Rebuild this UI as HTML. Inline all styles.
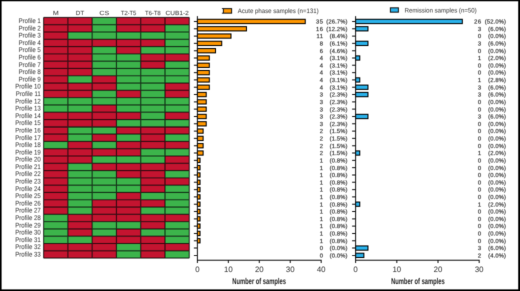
<!DOCTYPE html>
<html><head><meta charset="utf-8"><style>
html,body{margin:0;padding:0;background:#fff;width:520px;height:291px;overflow:hidden}
</style></head><body>
<div style="position:relative;width:520px;height:291px;overflow:hidden">
<div style="position:absolute;left:0;top:0;width:1040px;height:582px;transform:scale(0.5);transform-origin:0 0;will-change:transform">
<svg width="1040" height="582" viewBox="0 0 520 291" style="display:block;text-rendering:geometricPrecision">
<defs><filter id="bl" x="0" y="0" width="1" height="1" color-interpolation-filters="sRGB"><feConvolveMatrix order="5" kernelMatrix="0.00009 0.00198 0.00548 0.00198 0.00009 0.00198 0.04220 0.11707 0.04220 0.00198 0.00548 0.11707 0.32480 0.11707 0.00548 0.00198 0.04220 0.11707 0.04220 0.00198 0.00009 0.00198 0.00548 0.00198 0.00009" divisor="1" edgeMode="duplicate" preserveAlpha="true"/></filter></defs>
<g filter="url(#bl)">
<rect x="0" y="0" width="520" height="291" fill="#fff"/>
<rect x="43.6" y="17.4" width="24.28" height="7.29" fill="#c41430"/>
<rect x="67.88" y="17.4" width="24.28" height="7.29" fill="#c41430"/>
<rect x="92.16" y="17.4" width="24.28" height="7.29" fill="#3cb44b"/>
<rect x="116.44" y="17.4" width="24.28" height="7.29" fill="#c41430"/>
<rect x="140.72" y="17.4" width="24.28" height="7.29" fill="#c41430"/>
<rect x="165" y="17.4" width="24.28" height="7.29" fill="#c41430"/>
<rect x="43.6" y="24.69" width="24.28" height="7.29" fill="#c41430"/>
<rect x="67.88" y="24.69" width="24.28" height="7.29" fill="#c41430"/>
<rect x="92.16" y="24.69" width="24.28" height="7.29" fill="#3cb44b"/>
<rect x="116.44" y="24.69" width="24.28" height="7.29" fill="#c41430"/>
<rect x="140.72" y="24.69" width="24.28" height="7.29" fill="#c41430"/>
<rect x="165" y="24.69" width="24.28" height="7.29" fill="#3cb44b"/>
<rect x="43.6" y="31.99" width="24.28" height="7.29" fill="#c41430"/>
<rect x="67.88" y="31.99" width="24.28" height="7.29" fill="#3cb44b"/>
<rect x="92.16" y="31.99" width="24.28" height="7.29" fill="#3cb44b"/>
<rect x="116.44" y="31.99" width="24.28" height="7.29" fill="#3cb44b"/>
<rect x="140.72" y="31.99" width="24.28" height="7.29" fill="#3cb44b"/>
<rect x="165" y="31.99" width="24.28" height="7.29" fill="#3cb44b"/>
<rect x="43.6" y="39.28" width="24.28" height="7.29" fill="#c41430"/>
<rect x="67.88" y="39.28" width="24.28" height="7.29" fill="#c41430"/>
<rect x="92.16" y="39.28" width="24.28" height="7.29" fill="#c41430"/>
<rect x="116.44" y="39.28" width="24.28" height="7.29" fill="#c41430"/>
<rect x="140.72" y="39.28" width="24.28" height="7.29" fill="#c41430"/>
<rect x="165" y="39.28" width="24.28" height="7.29" fill="#3cb44b"/>
<rect x="43.6" y="46.58" width="24.28" height="7.29" fill="#c41430"/>
<rect x="67.88" y="46.58" width="24.28" height="7.29" fill="#c41430"/>
<rect x="92.16" y="46.58" width="24.28" height="7.29" fill="#3cb44b"/>
<rect x="116.44" y="46.58" width="24.28" height="7.29" fill="#c41430"/>
<rect x="140.72" y="46.58" width="24.28" height="7.29" fill="#3cb44b"/>
<rect x="165" y="46.58" width="24.28" height="7.29" fill="#3cb44b"/>
<rect x="43.6" y="53.87" width="24.28" height="7.29" fill="#c41430"/>
<rect x="67.88" y="53.87" width="24.28" height="7.29" fill="#c41430"/>
<rect x="92.16" y="53.87" width="24.28" height="7.29" fill="#3cb44b"/>
<rect x="116.44" y="53.87" width="24.28" height="7.29" fill="#3cb44b"/>
<rect x="140.72" y="53.87" width="24.28" height="7.29" fill="#c41430"/>
<rect x="165" y="53.87" width="24.28" height="7.29" fill="#c41430"/>
<rect x="43.6" y="61.16" width="24.28" height="7.29" fill="#c41430"/>
<rect x="67.88" y="61.16" width="24.28" height="7.29" fill="#c41430"/>
<rect x="92.16" y="61.16" width="24.28" height="7.29" fill="#3cb44b"/>
<rect x="116.44" y="61.16" width="24.28" height="7.29" fill="#3cb44b"/>
<rect x="140.72" y="61.16" width="24.28" height="7.29" fill="#c41430"/>
<rect x="165" y="61.16" width="24.28" height="7.29" fill="#3cb44b"/>
<rect x="43.6" y="68.46" width="24.28" height="7.29" fill="#c41430"/>
<rect x="67.88" y="68.46" width="24.28" height="7.29" fill="#c41430"/>
<rect x="92.16" y="68.46" width="24.28" height="7.29" fill="#3cb44b"/>
<rect x="116.44" y="68.46" width="24.28" height="7.29" fill="#3cb44b"/>
<rect x="140.72" y="68.46" width="24.28" height="7.29" fill="#3cb44b"/>
<rect x="165" y="68.46" width="24.28" height="7.29" fill="#3cb44b"/>
<rect x="43.6" y="75.75" width="24.28" height="7.29" fill="#c41430"/>
<rect x="67.88" y="75.75" width="24.28" height="7.29" fill="#3cb44b"/>
<rect x="92.16" y="75.75" width="24.28" height="7.29" fill="#c41430"/>
<rect x="116.44" y="75.75" width="24.28" height="7.29" fill="#3cb44b"/>
<rect x="140.72" y="75.75" width="24.28" height="7.29" fill="#3cb44b"/>
<rect x="165" y="75.75" width="24.28" height="7.29" fill="#3cb44b"/>
<rect x="43.6" y="83.05" width="24.28" height="7.29" fill="#c41430"/>
<rect x="67.88" y="83.05" width="24.28" height="7.29" fill="#c41430"/>
<rect x="92.16" y="83.05" width="24.28" height="7.29" fill="#c41430"/>
<rect x="116.44" y="83.05" width="24.28" height="7.29" fill="#3cb44b"/>
<rect x="140.72" y="83.05" width="24.28" height="7.29" fill="#3cb44b"/>
<rect x="165" y="83.05" width="24.28" height="7.29" fill="#c41430"/>
<rect x="43.6" y="90.34" width="24.28" height="7.29" fill="#c41430"/>
<rect x="67.88" y="90.34" width="24.28" height="7.29" fill="#c41430"/>
<rect x="92.16" y="90.34" width="24.28" height="7.29" fill="#3cb44b"/>
<rect x="116.44" y="90.34" width="24.28" height="7.29" fill="#c41430"/>
<rect x="140.72" y="90.34" width="24.28" height="7.29" fill="#3cb44b"/>
<rect x="165" y="90.34" width="24.28" height="7.29" fill="#c41430"/>
<rect x="43.6" y="97.63" width="24.28" height="7.29" fill="#3cb44b"/>
<rect x="67.88" y="97.63" width="24.28" height="7.29" fill="#3cb44b"/>
<rect x="92.16" y="97.63" width="24.28" height="7.29" fill="#3cb44b"/>
<rect x="116.44" y="97.63" width="24.28" height="7.29" fill="#3cb44b"/>
<rect x="140.72" y="97.63" width="24.28" height="7.29" fill="#3cb44b"/>
<rect x="165" y="97.63" width="24.28" height="7.29" fill="#3cb44b"/>
<rect x="43.6" y="104.93" width="24.28" height="7.29" fill="#3cb44b"/>
<rect x="67.88" y="104.93" width="24.28" height="7.29" fill="#3cb44b"/>
<rect x="92.16" y="104.93" width="24.28" height="7.29" fill="#c41430"/>
<rect x="116.44" y="104.93" width="24.28" height="7.29" fill="#3cb44b"/>
<rect x="140.72" y="104.93" width="24.28" height="7.29" fill="#3cb44b"/>
<rect x="165" y="104.93" width="24.28" height="7.29" fill="#3cb44b"/>
<rect x="43.6" y="112.22" width="24.28" height="7.29" fill="#c41430"/>
<rect x="67.88" y="112.22" width="24.28" height="7.29" fill="#c41430"/>
<rect x="92.16" y="112.22" width="24.28" height="7.29" fill="#c41430"/>
<rect x="116.44" y="112.22" width="24.28" height="7.29" fill="#c41430"/>
<rect x="140.72" y="112.22" width="24.28" height="7.29" fill="#3cb44b"/>
<rect x="165" y="112.22" width="24.28" height="7.29" fill="#c41430"/>
<rect x="43.6" y="119.52" width="24.28" height="7.29" fill="#c41430"/>
<rect x="67.88" y="119.52" width="24.28" height="7.29" fill="#c41430"/>
<rect x="92.16" y="119.52" width="24.28" height="7.29" fill="#c41430"/>
<rect x="116.44" y="119.52" width="24.28" height="7.29" fill="#3cb44b"/>
<rect x="140.72" y="119.52" width="24.28" height="7.29" fill="#3cb44b"/>
<rect x="165" y="119.52" width="24.28" height="7.29" fill="#3cb44b"/>
<rect x="43.6" y="126.81" width="24.28" height="7.29" fill="#c41430"/>
<rect x="67.88" y="126.81" width="24.28" height="7.29" fill="#3cb44b"/>
<rect x="92.16" y="126.81" width="24.28" height="7.29" fill="#3cb44b"/>
<rect x="116.44" y="126.81" width="24.28" height="7.29" fill="#c41430"/>
<rect x="140.72" y="126.81" width="24.28" height="7.29" fill="#c41430"/>
<rect x="165" y="126.81" width="24.28" height="7.29" fill="#c41430"/>
<rect x="43.6" y="134.1" width="24.28" height="7.29" fill="#c41430"/>
<rect x="67.88" y="134.1" width="24.28" height="7.29" fill="#3cb44b"/>
<rect x="92.16" y="134.1" width="24.28" height="7.29" fill="#c41430"/>
<rect x="116.44" y="134.1" width="24.28" height="7.29" fill="#3cb44b"/>
<rect x="140.72" y="134.1" width="24.28" height="7.29" fill="#c41430"/>
<rect x="165" y="134.1" width="24.28" height="7.29" fill="#3cb44b"/>
<rect x="43.6" y="141.4" width="24.28" height="7.29" fill="#3cb44b"/>
<rect x="67.88" y="141.4" width="24.28" height="7.29" fill="#c41430"/>
<rect x="92.16" y="141.4" width="24.28" height="7.29" fill="#3cb44b"/>
<rect x="116.44" y="141.4" width="24.28" height="7.29" fill="#c41430"/>
<rect x="140.72" y="141.4" width="24.28" height="7.29" fill="#c41430"/>
<rect x="165" y="141.4" width="24.28" height="7.29" fill="#c41430"/>
<rect x="43.6" y="148.69" width="24.28" height="7.29" fill="#c41430"/>
<rect x="67.88" y="148.69" width="24.28" height="7.29" fill="#c41430"/>
<rect x="92.16" y="148.69" width="24.28" height="7.29" fill="#c41430"/>
<rect x="116.44" y="148.69" width="24.28" height="7.29" fill="#c41430"/>
<rect x="140.72" y="148.69" width="24.28" height="7.29" fill="#3cb44b"/>
<rect x="165" y="148.69" width="24.28" height="7.29" fill="#3cb44b"/>
<rect x="43.6" y="155.99" width="24.28" height="7.29" fill="#c41430"/>
<rect x="67.88" y="155.99" width="24.28" height="7.29" fill="#c41430"/>
<rect x="92.16" y="155.99" width="24.28" height="7.29" fill="#3cb44b"/>
<rect x="116.44" y="155.99" width="24.28" height="7.29" fill="#3cb44b"/>
<rect x="140.72" y="155.99" width="24.28" height="7.29" fill="#3cb44b"/>
<rect x="165" y="155.99" width="24.28" height="7.29" fill="#c41430"/>
<rect x="43.6" y="163.28" width="24.28" height="7.29" fill="#c41430"/>
<rect x="67.88" y="163.28" width="24.28" height="7.29" fill="#3cb44b"/>
<rect x="92.16" y="163.28" width="24.28" height="7.29" fill="#c41430"/>
<rect x="116.44" y="163.28" width="24.28" height="7.29" fill="#c41430"/>
<rect x="140.72" y="163.28" width="24.28" height="7.29" fill="#c41430"/>
<rect x="165" y="163.28" width="24.28" height="7.29" fill="#c41430"/>
<rect x="43.6" y="170.57" width="24.28" height="7.29" fill="#c41430"/>
<rect x="67.88" y="170.57" width="24.28" height="7.29" fill="#3cb44b"/>
<rect x="92.16" y="170.57" width="24.28" height="7.29" fill="#3cb44b"/>
<rect x="116.44" y="170.57" width="24.28" height="7.29" fill="#c41430"/>
<rect x="140.72" y="170.57" width="24.28" height="7.29" fill="#c41430"/>
<rect x="165" y="170.57" width="24.28" height="7.29" fill="#3cb44b"/>
<rect x="43.6" y="177.87" width="24.28" height="7.29" fill="#c41430"/>
<rect x="67.88" y="177.87" width="24.28" height="7.29" fill="#3cb44b"/>
<rect x="92.16" y="177.87" width="24.28" height="7.29" fill="#3cb44b"/>
<rect x="116.44" y="177.87" width="24.28" height="7.29" fill="#3cb44b"/>
<rect x="140.72" y="177.87" width="24.28" height="7.29" fill="#c41430"/>
<rect x="165" y="177.87" width="24.28" height="7.29" fill="#c41430"/>
<rect x="43.6" y="185.16" width="24.28" height="7.29" fill="#c41430"/>
<rect x="67.88" y="185.16" width="24.28" height="7.29" fill="#3cb44b"/>
<rect x="92.16" y="185.16" width="24.28" height="7.29" fill="#3cb44b"/>
<rect x="116.44" y="185.16" width="24.28" height="7.29" fill="#3cb44b"/>
<rect x="140.72" y="185.16" width="24.28" height="7.29" fill="#c41430"/>
<rect x="165" y="185.16" width="24.28" height="7.29" fill="#3cb44b"/>
<rect x="43.6" y="192.46" width="24.28" height="7.29" fill="#c41430"/>
<rect x="67.88" y="192.46" width="24.28" height="7.29" fill="#3cb44b"/>
<rect x="92.16" y="192.46" width="24.28" height="7.29" fill="#3cb44b"/>
<rect x="116.44" y="192.46" width="24.28" height="7.29" fill="#c41430"/>
<rect x="140.72" y="192.46" width="24.28" height="7.29" fill="#3cb44b"/>
<rect x="165" y="192.46" width="24.28" height="7.29" fill="#3cb44b"/>
<rect x="43.6" y="199.75" width="24.28" height="7.29" fill="#c41430"/>
<rect x="67.88" y="199.75" width="24.28" height="7.29" fill="#3cb44b"/>
<rect x="92.16" y="199.75" width="24.28" height="7.29" fill="#c41430"/>
<rect x="116.44" y="199.75" width="24.28" height="7.29" fill="#c41430"/>
<rect x="140.72" y="199.75" width="24.28" height="7.29" fill="#c41430"/>
<rect x="165" y="199.75" width="24.28" height="7.29" fill="#3cb44b"/>
<rect x="43.6" y="207.04" width="24.28" height="7.29" fill="#c41430"/>
<rect x="67.88" y="207.04" width="24.28" height="7.29" fill="#3cb44b"/>
<rect x="92.16" y="207.04" width="24.28" height="7.29" fill="#c41430"/>
<rect x="116.44" y="207.04" width="24.28" height="7.29" fill="#c41430"/>
<rect x="140.72" y="207.04" width="24.28" height="7.29" fill="#3cb44b"/>
<rect x="165" y="207.04" width="24.28" height="7.29" fill="#3cb44b"/>
<rect x="43.6" y="214.34" width="24.28" height="7.29" fill="#3cb44b"/>
<rect x="67.88" y="214.34" width="24.28" height="7.29" fill="#c41430"/>
<rect x="92.16" y="214.34" width="24.28" height="7.29" fill="#c41430"/>
<rect x="116.44" y="214.34" width="24.28" height="7.29" fill="#c41430"/>
<rect x="140.72" y="214.34" width="24.28" height="7.29" fill="#c41430"/>
<rect x="165" y="214.34" width="24.28" height="7.29" fill="#c41430"/>
<rect x="43.6" y="221.63" width="24.28" height="7.29" fill="#3cb44b"/>
<rect x="67.88" y="221.63" width="24.28" height="7.29" fill="#c41430"/>
<rect x="92.16" y="221.63" width="24.28" height="7.29" fill="#3cb44b"/>
<rect x="116.44" y="221.63" width="24.28" height="7.29" fill="#3cb44b"/>
<rect x="140.72" y="221.63" width="24.28" height="7.29" fill="#c41430"/>
<rect x="165" y="221.63" width="24.28" height="7.29" fill="#3cb44b"/>
<rect x="43.6" y="228.93" width="24.28" height="7.29" fill="#3cb44b"/>
<rect x="67.88" y="228.93" width="24.28" height="7.29" fill="#c41430"/>
<rect x="92.16" y="228.93" width="24.28" height="7.29" fill="#3cb44b"/>
<rect x="116.44" y="228.93" width="24.28" height="7.29" fill="#c41430"/>
<rect x="140.72" y="228.93" width="24.28" height="7.29" fill="#3cb44b"/>
<rect x="165" y="228.93" width="24.28" height="7.29" fill="#3cb44b"/>
<rect x="43.6" y="236.22" width="24.28" height="7.29" fill="#3cb44b"/>
<rect x="67.88" y="236.22" width="24.28" height="7.29" fill="#3cb44b"/>
<rect x="92.16" y="236.22" width="24.28" height="7.29" fill="#c41430"/>
<rect x="116.44" y="236.22" width="24.28" height="7.29" fill="#c41430"/>
<rect x="140.72" y="236.22" width="24.28" height="7.29" fill="#c41430"/>
<rect x="165" y="236.22" width="24.28" height="7.29" fill="#3cb44b"/>
<rect x="43.6" y="243.51" width="24.28" height="7.29" fill="#c41430"/>
<rect x="67.88" y="243.51" width="24.28" height="7.29" fill="#c41430"/>
<rect x="92.16" y="243.51" width="24.28" height="7.29" fill="#c41430"/>
<rect x="116.44" y="243.51" width="24.28" height="7.29" fill="#3cb44b"/>
<rect x="140.72" y="243.51" width="24.28" height="7.29" fill="#c41430"/>
<rect x="165" y="243.51" width="24.28" height="7.29" fill="#c41430"/>
<rect x="43.6" y="250.81" width="24.28" height="7.29" fill="#c41430"/>
<rect x="67.88" y="250.81" width="24.28" height="7.29" fill="#c41430"/>
<rect x="92.16" y="250.81" width="24.28" height="7.29" fill="#c41430"/>
<rect x="116.44" y="250.81" width="24.28" height="7.29" fill="#3cb44b"/>
<rect x="140.72" y="250.81" width="24.28" height="7.29" fill="#c41430"/>
<rect x="165" y="250.81" width="24.28" height="7.29" fill="#3cb44b"/>
<path d="M43.6 17.4H189.28M43.6 24.69H189.28M43.6 31.99H189.28M43.6 39.28H189.28M43.6 46.58H189.28M43.6 53.87H189.28M43.6 61.16H189.28M43.6 68.46H189.28M43.6 75.75H189.28M43.6 83.05H189.28M43.6 90.34H189.28M43.6 97.63H189.28M43.6 104.93H189.28M43.6 112.22H189.28M43.6 119.52H189.28M43.6 126.81H189.28M43.6 134.1H189.28M43.6 141.4H189.28M43.6 148.69H189.28M43.6 155.99H189.28M43.6 163.28H189.28M43.6 170.57H189.28M43.6 177.87H189.28M43.6 185.16H189.28M43.6 192.46H189.28M43.6 199.75H189.28M43.6 207.04H189.28M43.6 214.34H189.28M43.6 221.63H189.28M43.6 228.93H189.28M43.6 236.22H189.28M43.6 243.51H189.28M43.6 250.81H189.28M43.6 258.1H189.28M43.6 17.4V258.1M67.88 17.4V258.1M92.16 17.4V258.1M116.44 17.4V258.1M140.72 17.4V258.1M165 17.4V258.1M189.28 17.4V258.1" stroke="#000" stroke-opacity="0.72" stroke-width="1.1" fill="none"/>
<g font-family="Liberation Sans, sans-serif" font-size="6.7" fill="#313131">
<text transform="translate(55.74 15.1) scale(1.17 1)" text-anchor="middle" font-size="6.0">M</text>
<text transform="translate(80.02 15.1) scale(1.06 1)" text-anchor="middle" font-size="6.0">DT</text>
<text transform="translate(104.3 15.1) scale(1.17 1)" text-anchor="middle" font-size="6.0">CS</text>
<text transform="translate(128.58 15.1) scale(0.96 1)" text-anchor="middle" font-size="6.0">T2-T5</text>
<text transform="translate(152.86 15.1) scale(0.98 1)" text-anchor="middle" font-size="6.0">T6-T8</text>
<text transform="translate(177.14 15.1) scale(1.09 1)" text-anchor="middle" font-size="6.0">CUB1-2</text>
<text transform="translate(40.7 23.05) scale(0.9 1)" text-anchor="end" font-size="6.7">Profile 1</text>
<text transform="translate(40.7 30.34) scale(0.9 1)" text-anchor="end" font-size="6.7">Profile 2</text>
<text transform="translate(40.7 37.63) scale(0.9 1)" text-anchor="end" font-size="6.7">Profile 3</text>
<text transform="translate(40.7 44.93) scale(0.9 1)" text-anchor="end" font-size="6.7">Profile 4</text>
<text transform="translate(40.7 52.22) scale(0.9 1)" text-anchor="end" font-size="6.7">Profile 5</text>
<text transform="translate(40.7 59.52) scale(0.9 1)" text-anchor="end" font-size="6.7">Profile 6</text>
<text transform="translate(40.7 66.81) scale(0.9 1)" text-anchor="end" font-size="6.7">Profile 7</text>
<text transform="translate(40.7 74.1) scale(0.9 1)" text-anchor="end" font-size="6.7">Profile 8</text>
<text transform="translate(40.7 81.4) scale(0.9 1)" text-anchor="end" font-size="6.7">Profile 9</text>
<text transform="translate(40.7 88.69) scale(0.9 1)" text-anchor="end" font-size="6.7">Profile 10</text>
<text transform="translate(40.7 95.99) scale(0.9 1)" text-anchor="end" font-size="6.7">Profile 11</text>
<text transform="translate(40.7 103.28) scale(0.9 1)" text-anchor="end" font-size="6.7">Profile 12</text>
<text transform="translate(40.7 110.57) scale(0.9 1)" text-anchor="end" font-size="6.7">Profile 13</text>
<text transform="translate(40.7 117.87) scale(0.9 1)" text-anchor="end" font-size="6.7">Profile 14</text>
<text transform="translate(40.7 125.16) scale(0.9 1)" text-anchor="end" font-size="6.7">Profile 15</text>
<text transform="translate(40.7 132.46) scale(0.9 1)" text-anchor="end" font-size="6.7">Profile 16</text>
<text transform="translate(40.7 139.75) scale(0.9 1)" text-anchor="end" font-size="6.7">Profile 17</text>
<text transform="translate(40.7 147.04) scale(0.9 1)" text-anchor="end" font-size="6.7">Profile 18</text>
<text transform="translate(40.7 154.34) scale(0.9 1)" text-anchor="end" font-size="6.7">Profile 19</text>
<text transform="translate(40.7 161.63) scale(0.9 1)" text-anchor="end" font-size="6.7">Profile 20</text>
<text transform="translate(40.7 168.93) scale(0.9 1)" text-anchor="end" font-size="6.7">Profile 21</text>
<text transform="translate(40.7 176.22) scale(0.9 1)" text-anchor="end" font-size="6.7">Profile 22</text>
<text transform="translate(40.7 183.51) scale(0.9 1)" text-anchor="end" font-size="6.7">Profile 23</text>
<text transform="translate(40.7 190.81) scale(0.9 1)" text-anchor="end" font-size="6.7">Profile 24</text>
<text transform="translate(40.7 198.1) scale(0.9 1)" text-anchor="end" font-size="6.7">Profile 25</text>
<text transform="translate(40.7 205.4) scale(0.9 1)" text-anchor="end" font-size="6.7">Profile 26</text>
<text transform="translate(40.7 212.69) scale(0.9 1)" text-anchor="end" font-size="6.7">Profile 27</text>
<text transform="translate(40.7 219.98) scale(0.9 1)" text-anchor="end" font-size="6.7">Profile 28</text>
<text transform="translate(40.7 227.28) scale(0.9 1)" text-anchor="end" font-size="6.7">Profile 29</text>
<text transform="translate(40.7 234.57) scale(0.9 1)" text-anchor="end" font-size="6.7">Profile 30</text>
<text transform="translate(40.7 241.87) scale(0.9 1)" text-anchor="end" font-size="6.7">Profile 31</text>
<text transform="translate(40.7 249.16) scale(0.9 1)" text-anchor="end" font-size="6.7">Profile 32</text>
<text transform="translate(40.7 256.45) scale(0.9 1)" text-anchor="end" font-size="6.7">Profile 33</text>
</g>
<rect x="197.4" y="19.3" width="107.88" height="4.3" fill="#ff9700" stroke="#000" stroke-width="1"/>
<rect x="197.4" y="26.61" width="49.07" height="4.3" fill="#ff9700" stroke="#000" stroke-width="1"/>
<rect x="197.4" y="33.92" width="33.59" height="4.3" fill="#ff9700" stroke="#000" stroke-width="1"/>
<rect x="197.4" y="41.23" width="24.31" height="4.3" fill="#ff9700" stroke="#000" stroke-width="1"/>
<rect x="197.4" y="48.54" width="18.12" height="4.3" fill="#ff9700" stroke="#000" stroke-width="1"/>
<rect x="197.4" y="55.85" width="11.93" height="4.3" fill="#ff9700" stroke="#000" stroke-width="1"/>
<rect x="197.4" y="63.16" width="11.93" height="4.3" fill="#ff9700" stroke="#000" stroke-width="1"/>
<rect x="197.4" y="70.47" width="11.93" height="4.3" fill="#ff9700" stroke="#000" stroke-width="1"/>
<rect x="197.4" y="77.78" width="11.93" height="4.3" fill="#ff9700" stroke="#000" stroke-width="1"/>
<rect x="197.4" y="85.09" width="11.93" height="4.3" fill="#ff9700" stroke="#000" stroke-width="1"/>
<rect x="197.4" y="92.4" width="8.84" height="4.3" fill="#ff9700" stroke="#000" stroke-width="1"/>
<rect x="197.4" y="99.71" width="8.84" height="4.3" fill="#ff9700" stroke="#000" stroke-width="1"/>
<rect x="197.4" y="107.02" width="8.84" height="4.3" fill="#ff9700" stroke="#000" stroke-width="1"/>
<rect x="197.4" y="114.33" width="8.84" height="4.3" fill="#ff9700" stroke="#000" stroke-width="1"/>
<rect x="197.4" y="121.64" width="8.84" height="4.3" fill="#ff9700" stroke="#000" stroke-width="1"/>
<rect x="197.4" y="128.95" width="5.74" height="4.3" fill="#ff9700" stroke="#000" stroke-width="1"/>
<rect x="197.4" y="136.26" width="5.74" height="4.3" fill="#ff9700" stroke="#000" stroke-width="1"/>
<rect x="197.4" y="143.57" width="5.74" height="4.3" fill="#ff9700" stroke="#000" stroke-width="1"/>
<rect x="197.4" y="150.88" width="5.74" height="4.3" fill="#ff9700" stroke="#000" stroke-width="1"/>
<rect x="197.4" y="158.19" width="2.65" height="4.3" fill="#ff9700" stroke="#000" stroke-width="1"/>
<rect x="197.4" y="165.5" width="2.65" height="4.3" fill="#ff9700" stroke="#000" stroke-width="1"/>
<rect x="197.4" y="172.81" width="2.65" height="4.3" fill="#ff9700" stroke="#000" stroke-width="1"/>
<rect x="197.4" y="180.12" width="2.65" height="4.3" fill="#ff9700" stroke="#000" stroke-width="1"/>
<rect x="197.4" y="187.43" width="2.65" height="4.3" fill="#ff9700" stroke="#000" stroke-width="1"/>
<rect x="197.4" y="194.74" width="2.65" height="4.3" fill="#ff9700" stroke="#000" stroke-width="1"/>
<rect x="197.4" y="202.05" width="2.65" height="4.3" fill="#ff9700" stroke="#000" stroke-width="1"/>
<rect x="197.4" y="209.36" width="2.65" height="4.3" fill="#ff9700" stroke="#000" stroke-width="1"/>
<rect x="197.4" y="216.67" width="2.65" height="4.3" fill="#ff9700" stroke="#000" stroke-width="1"/>
<rect x="197.4" y="223.98" width="2.65" height="4.3" fill="#ff9700" stroke="#000" stroke-width="1"/>
<rect x="197.4" y="231.29" width="2.65" height="4.3" fill="#ff9700" stroke="#000" stroke-width="1"/>
<rect x="197.4" y="238.6" width="2.65" height="4.3" fill="#ff9700" stroke="#000" stroke-width="1"/>
<path d="M197.4 16.1V260.3M193.9 21.45H197.4M193.9 28.76H197.4M193.9 36.07H197.4M193.9 43.38H197.4M193.9 50.69H197.4M193.9 58H197.4M193.9 65.31H197.4M193.9 72.62H197.4M193.9 79.93H197.4M193.9 87.24H197.4M193.9 94.55H197.4M193.9 101.86H197.4M193.9 109.17H197.4M193.9 116.48H197.4M193.9 123.79H197.4M193.9 131.1H197.4M193.9 138.41H197.4M193.9 145.72H197.4M193.9 153.03H197.4M193.9 160.34H197.4M193.9 167.65H197.4M193.9 174.96H197.4M193.9 182.27H197.4M193.9 189.58H197.4M193.9 196.89H197.4M193.9 204.2H197.4M193.9 211.51H197.4M193.9 218.82H197.4M193.9 226.13H197.4M193.9 233.44H197.4M193.9 240.75H197.4M193.9 248.06H197.4M193.9 255.37H197.4M196.9 260.3H321.7M197.4 260.3V263M228.35 260.3V263M259.3 260.3V263M290.25 260.3V263M321.2 260.3V263" stroke="#141414" stroke-width="1" fill="none"/>
<g font-family="Liberation Sans, sans-serif" font-size="7.8" fill="#313131" text-anchor="middle">
<text x="197.4" y="272.1">0</text>
<text x="228.35" y="272.1">10</text>
<text x="259.3" y="272.1">20</text>
<text x="290.25" y="272.1">30</text>
<text x="321.2" y="272.1">40</text>
</g>
<g font-family="Liberation Sans, sans-serif" font-size="8.4" font-weight="bold" fill="#1e1e1e">
<text transform="translate(259.1 283.8) scale(0.69 1)" text-anchor="middle">Number of samples</text>
</g>
<g font-family="Liberation Sans, sans-serif" font-size="5.8" letter-spacing="0.45" fill="#313131" stroke="#313131" stroke-width="0.18">
<text x="323.4" y="23.55" text-anchor="end">35</text>
<text x="347.6" y="23.55" text-anchor="end" letter-spacing="0.15">(26.7%)</text>
<text x="323.4" y="30.86" text-anchor="end">16</text>
<text x="347.6" y="30.86" text-anchor="end" letter-spacing="0.15">(12.2%)</text>
<text x="323.4" y="38.17" text-anchor="end">11</text>
<text x="347.6" y="38.17" text-anchor="end" letter-spacing="0.15">(8.4%)</text>
<text x="323.4" y="45.48" text-anchor="end">8</text>
<text x="347.6" y="45.48" text-anchor="end" letter-spacing="0.15">(6.1%)</text>
<text x="323.4" y="52.79" text-anchor="end">6</text>
<text x="347.6" y="52.79" text-anchor="end" letter-spacing="0.15">(4.6%)</text>
<text x="323.4" y="60.1" text-anchor="end">4</text>
<text x="347.6" y="60.1" text-anchor="end" letter-spacing="0.15">(3.1%)</text>
<text x="323.4" y="67.41" text-anchor="end">4</text>
<text x="347.6" y="67.41" text-anchor="end" letter-spacing="0.15">(3.1%)</text>
<text x="323.4" y="74.72" text-anchor="end">4</text>
<text x="347.6" y="74.72" text-anchor="end" letter-spacing="0.15">(3.1%)</text>
<text x="323.4" y="82.03" text-anchor="end">4</text>
<text x="347.6" y="82.03" text-anchor="end" letter-spacing="0.15">(3.1%)</text>
<text x="323.4" y="89.34" text-anchor="end">4</text>
<text x="347.6" y="89.34" text-anchor="end" letter-spacing="0.15">(3.1%)</text>
<text x="323.4" y="96.65" text-anchor="end">3</text>
<text x="347.6" y="96.65" text-anchor="end" letter-spacing="0.15">(2.3%)</text>
<text x="323.4" y="103.96" text-anchor="end">3</text>
<text x="347.6" y="103.96" text-anchor="end" letter-spacing="0.15">(2.3%)</text>
<text x="323.4" y="111.27" text-anchor="end">3</text>
<text x="347.6" y="111.27" text-anchor="end" letter-spacing="0.15">(2.3%)</text>
<text x="323.4" y="118.58" text-anchor="end">3</text>
<text x="347.6" y="118.58" text-anchor="end" letter-spacing="0.15">(2.3%)</text>
<text x="323.4" y="125.89" text-anchor="end">3</text>
<text x="347.6" y="125.89" text-anchor="end" letter-spacing="0.15">(2.3%)</text>
<text x="323.4" y="133.2" text-anchor="end">2</text>
<text x="347.6" y="133.2" text-anchor="end" letter-spacing="0.15">(1.5%)</text>
<text x="323.4" y="140.51" text-anchor="end">2</text>
<text x="347.6" y="140.51" text-anchor="end" letter-spacing="0.15">(1.5%)</text>
<text x="323.4" y="147.82" text-anchor="end">2</text>
<text x="347.6" y="147.82" text-anchor="end" letter-spacing="0.15">(1.5%)</text>
<text x="323.4" y="155.13" text-anchor="end">2</text>
<text x="347.6" y="155.13" text-anchor="end" letter-spacing="0.15">(1.5%)</text>
<text x="323.4" y="162.44" text-anchor="end">1</text>
<text x="347.6" y="162.44" text-anchor="end" letter-spacing="0.15">(0.8%)</text>
<text x="323.4" y="169.75" text-anchor="end">1</text>
<text x="347.6" y="169.75" text-anchor="end" letter-spacing="0.15">(0.8%)</text>
<text x="323.4" y="177.06" text-anchor="end">1</text>
<text x="347.6" y="177.06" text-anchor="end" letter-spacing="0.15">(0.8%)</text>
<text x="323.4" y="184.37" text-anchor="end">1</text>
<text x="347.6" y="184.37" text-anchor="end" letter-spacing="0.15">(0.8%)</text>
<text x="323.4" y="191.68" text-anchor="end">1</text>
<text x="347.6" y="191.68" text-anchor="end" letter-spacing="0.15">(0.8%)</text>
<text x="323.4" y="198.99" text-anchor="end">1</text>
<text x="347.6" y="198.99" text-anchor="end" letter-spacing="0.15">(0.8%)</text>
<text x="323.4" y="206.3" text-anchor="end">1</text>
<text x="347.6" y="206.3" text-anchor="end" letter-spacing="0.15">(0.8%)</text>
<text x="323.4" y="213.61" text-anchor="end">1</text>
<text x="347.6" y="213.61" text-anchor="end" letter-spacing="0.15">(0.8%)</text>
<text x="323.4" y="220.92" text-anchor="end">1</text>
<text x="347.6" y="220.92" text-anchor="end" letter-spacing="0.15">(0.8%)</text>
<text x="323.4" y="228.23" text-anchor="end">1</text>
<text x="347.6" y="228.23" text-anchor="end" letter-spacing="0.15">(0.8%)</text>
<text x="323.4" y="235.54" text-anchor="end">1</text>
<text x="347.6" y="235.54" text-anchor="end" letter-spacing="0.15">(0.8%)</text>
<text x="323.4" y="242.85" text-anchor="end">1</text>
<text x="347.6" y="242.85" text-anchor="end" letter-spacing="0.15">(0.8%)</text>
<text x="323.4" y="250.16" text-anchor="end">0</text>
<text x="347.6" y="250.16" text-anchor="end" letter-spacing="0.15">(0.0%)</text>
<text x="323.4" y="257.47" text-anchor="end">0</text>
<text x="347.6" y="257.47" text-anchor="end" letter-spacing="0.15">(0.0%)</text>
</g>
<rect x="355.6" y="19.3" width="106.75" height="4.3" fill="#2ab2eb" stroke="#000" stroke-width="1"/>
<rect x="355.6" y="26.61" width="12.36" height="4.3" fill="#2ab2eb" stroke="#000" stroke-width="1"/>
<rect x="355.6" y="41.23" width="12.36" height="4.3" fill="#2ab2eb" stroke="#000" stroke-width="1"/>
<rect x="355.6" y="55.85" width="4.15" height="4.3" fill="#2ab2eb" stroke="#000" stroke-width="1"/>
<rect x="355.6" y="77.78" width="4.15" height="4.3" fill="#2ab2eb" stroke="#000" stroke-width="1"/>
<rect x="355.6" y="85.09" width="12.36" height="4.3" fill="#2ab2eb" stroke="#000" stroke-width="1"/>
<rect x="355.6" y="92.4" width="12.36" height="4.3" fill="#2ab2eb" stroke="#000" stroke-width="1"/>
<rect x="355.6" y="114.33" width="12.36" height="4.3" fill="#2ab2eb" stroke="#000" stroke-width="1"/>
<rect x="355.6" y="150.88" width="4.15" height="4.3" fill="#2ab2eb" stroke="#000" stroke-width="1"/>
<rect x="355.6" y="202.05" width="4.15" height="4.3" fill="#2ab2eb" stroke="#000" stroke-width="1"/>
<rect x="355.6" y="245.91" width="12.36" height="4.3" fill="#2ab2eb" stroke="#000" stroke-width="1"/>
<rect x="355.6" y="253.22" width="8.26" height="4.3" fill="#2ab2eb" stroke="#000" stroke-width="1"/>
<path d="M355.6 16.1V260.3M352.1 21.45H355.6M352.1 28.76H355.6M352.1 36.07H355.6M352.1 43.38H355.6M352.1 50.69H355.6M352.1 58H355.6M352.1 65.31H355.6M352.1 72.62H355.6M352.1 79.93H355.6M352.1 87.24H355.6M352.1 94.55H355.6M352.1 101.86H355.6M352.1 109.17H355.6M352.1 116.48H355.6M352.1 123.79H355.6M352.1 131.1H355.6M352.1 138.41H355.6M352.1 145.72H355.6M352.1 153.03H355.6M352.1 160.34H355.6M352.1 167.65H355.6M352.1 174.96H355.6M352.1 182.27H355.6M352.1 189.58H355.6M352.1 196.89H355.6M352.1 204.2H355.6M352.1 211.51H355.6M352.1 218.82H355.6M352.1 226.13H355.6M352.1 233.44H355.6M352.1 240.75H355.6M352.1 248.06H355.6M352.1 255.37H355.6M355.1 260.3H479.7M355.6 260.3V263M396.8 260.3V263M438 260.3V263M479.2 260.3V263" stroke="#141414" stroke-width="1" fill="none"/>
<g font-family="Liberation Sans, sans-serif" font-size="7.8" fill="#313131" text-anchor="middle">
<text x="355.6" y="272.1">0</text>
<text x="396.8" y="272.1">10</text>
<text x="438" y="272.1">20</text>
<text x="479.2" y="272.1">30</text>
</g>
<g font-family="Liberation Sans, sans-serif" font-size="8.4" font-weight="bold" fill="#1e1e1e">
<text transform="translate(417.9 283.8) scale(0.69 1)" text-anchor="middle">Number of samples</text>
</g>
<g font-family="Liberation Sans, sans-serif" font-size="5.8" letter-spacing="0.45" fill="#313131" stroke="#313131" stroke-width="0.18">
<text x="481.5" y="23.55" text-anchor="end">26</text>
<text x="506.1" y="23.55" text-anchor="end" letter-spacing="0.15">(52.0%)</text>
<text x="481.5" y="30.86" text-anchor="end">3</text>
<text x="506.1" y="30.86" text-anchor="end" letter-spacing="0.15">(6.0%)</text>
<text x="481.5" y="38.17" text-anchor="end">0</text>
<text x="506.1" y="38.17" text-anchor="end" letter-spacing="0.15">(0.0%)</text>
<text x="481.5" y="45.48" text-anchor="end">3</text>
<text x="506.1" y="45.48" text-anchor="end" letter-spacing="0.15">(6.0%)</text>
<text x="481.5" y="52.79" text-anchor="end">0</text>
<text x="506.1" y="52.79" text-anchor="end" letter-spacing="0.15">(0.0%)</text>
<text x="481.5" y="60.1" text-anchor="end">1</text>
<text x="506.1" y="60.1" text-anchor="end" letter-spacing="0.15">(2.0%)</text>
<text x="481.5" y="67.41" text-anchor="end">0</text>
<text x="506.1" y="67.41" text-anchor="end" letter-spacing="0.15">(0.0%)</text>
<text x="481.5" y="74.72" text-anchor="end">0</text>
<text x="506.1" y="74.72" text-anchor="end" letter-spacing="0.15">(0.0%)</text>
<text x="481.5" y="82.03" text-anchor="end">1</text>
<text x="506.1" y="82.03" text-anchor="end" letter-spacing="0.15">(2.8%)</text>
<text x="481.5" y="89.34" text-anchor="end">3</text>
<text x="506.1" y="89.34" text-anchor="end" letter-spacing="0.15">(6.0%)</text>
<text x="481.5" y="96.65" text-anchor="end">3</text>
<text x="506.1" y="96.65" text-anchor="end" letter-spacing="0.15">(6.0%)</text>
<text x="481.5" y="103.96" text-anchor="end">0</text>
<text x="506.1" y="103.96" text-anchor="end" letter-spacing="0.15">(0.0%)</text>
<text x="481.5" y="111.27" text-anchor="end">0</text>
<text x="506.1" y="111.27" text-anchor="end" letter-spacing="0.15">(0.0%)</text>
<text x="481.5" y="118.58" text-anchor="end">3</text>
<text x="506.1" y="118.58" text-anchor="end" letter-spacing="0.15">(6.0%)</text>
<text x="481.5" y="125.89" text-anchor="end">0</text>
<text x="506.1" y="125.89" text-anchor="end" letter-spacing="0.15">(0.0%)</text>
<text x="481.5" y="133.2" text-anchor="end">0</text>
<text x="506.1" y="133.2" text-anchor="end" letter-spacing="0.15">(0.0%)</text>
<text x="481.5" y="140.51" text-anchor="end">0</text>
<text x="506.1" y="140.51" text-anchor="end" letter-spacing="0.15">(0.0%)</text>
<text x="481.5" y="147.82" text-anchor="end">0</text>
<text x="506.1" y="147.82" text-anchor="end" letter-spacing="0.15">(0.0%)</text>
<text x="481.5" y="155.13" text-anchor="end">1</text>
<text x="506.1" y="155.13" text-anchor="end" letter-spacing="0.15">(2.0%)</text>
<text x="481.5" y="162.44" text-anchor="end">0</text>
<text x="506.1" y="162.44" text-anchor="end" letter-spacing="0.15">(0.0%)</text>
<text x="481.5" y="169.75" text-anchor="end">0</text>
<text x="506.1" y="169.75" text-anchor="end" letter-spacing="0.15">(0.0%)</text>
<text x="481.5" y="177.06" text-anchor="end">0</text>
<text x="506.1" y="177.06" text-anchor="end" letter-spacing="0.15">(0.0%)</text>
<text x="481.5" y="184.37" text-anchor="end">0</text>
<text x="506.1" y="184.37" text-anchor="end" letter-spacing="0.15">(0.0%)</text>
<text x="481.5" y="191.68" text-anchor="end">0</text>
<text x="506.1" y="191.68" text-anchor="end" letter-spacing="0.15">(0.0%)</text>
<text x="481.5" y="198.99" text-anchor="end">0</text>
<text x="506.1" y="198.99" text-anchor="end" letter-spacing="0.15">(0.0%)</text>
<text x="481.5" y="206.3" text-anchor="end">1</text>
<text x="506.1" y="206.3" text-anchor="end" letter-spacing="0.15">(2.0%)</text>
<text x="481.5" y="213.61" text-anchor="end">0</text>
<text x="506.1" y="213.61" text-anchor="end" letter-spacing="0.15">(0.0%)</text>
<text x="481.5" y="220.92" text-anchor="end">0</text>
<text x="506.1" y="220.92" text-anchor="end" letter-spacing="0.15">(0.0%)</text>
<text x="481.5" y="228.23" text-anchor="end">0</text>
<text x="506.1" y="228.23" text-anchor="end" letter-spacing="0.15">(0.0%)</text>
<text x="481.5" y="235.54" text-anchor="end">0</text>
<text x="506.1" y="235.54" text-anchor="end" letter-spacing="0.15">(0.0%)</text>
<text x="481.5" y="242.85" text-anchor="end">0</text>
<text x="506.1" y="242.85" text-anchor="end" letter-spacing="0.15">(0.0%)</text>
<text x="481.5" y="250.16" text-anchor="end">3</text>
<text x="506.1" y="250.16" text-anchor="end" letter-spacing="0.15">(6.0%)</text>
<text x="481.5" y="257.47" text-anchor="end">2</text>
<text x="506.1" y="257.47" text-anchor="end" letter-spacing="0.15">(4.0%)</text>
</g>
<rect x="223.4" y="8.6" width="8.2" height="4.6" fill="#ff9700" stroke="#141414" stroke-width="1"/>
<path d="M221.9 8.6H223.4M221.9 13.2H223.4" stroke="#141414" stroke-width="0.9"/>
<rect x="390.4" y="7.8" width="8" height="4.4" fill="#2ab2eb" stroke="#141414" stroke-width="1"/>
<g font-family="Liberation Sans, sans-serif" font-size="6.7" fill="#313131">
<text transform="translate(237.8 13) scale(0.95 1)" font-size="6.4">Acute phase samples (n=131)</text>
<text transform="translate(404.6 12.3) scale(0.95 1)" font-size="6.4">Remission samples (n=50)</text>
</g>
<path d="M0 0H520V1.2H0Z M0 0H1.6V291H0Z M518.2 0H520V291H518.2Z M0 289.4H520V291H0Z" fill="#000"/>
</g>
</svg>
</div></div>
</body></html>
